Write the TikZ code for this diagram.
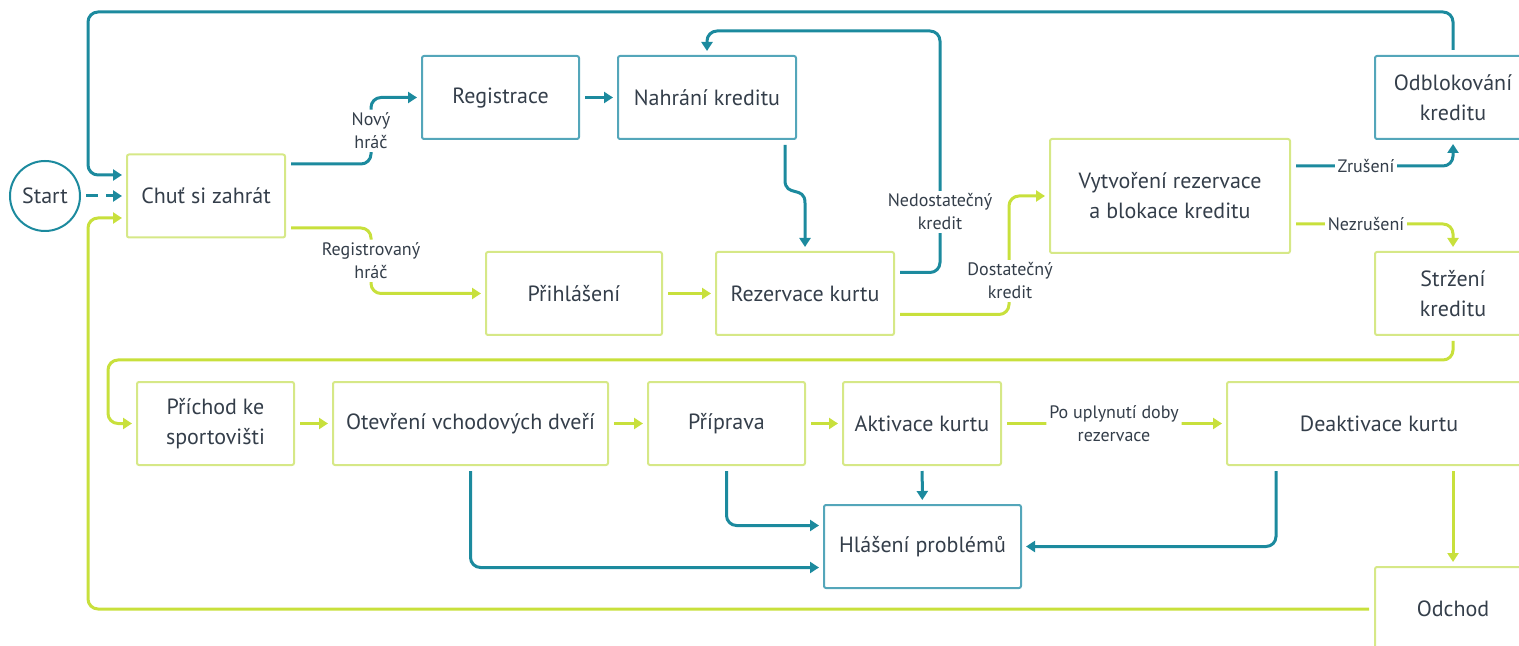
\documentclass[tikz,border=0pt]{standalone}
\usepackage{fontspec}
\setmainfont{PT Sans}
\usetikzlibrary{calc,arrows.meta}
\definecolor{tealc}{RGB}{28,138,158}
\definecolor{tealb}{RGB}{84,166,186}
\definecolor{limec}{RGB}{200,224,60}
\definecolor{limeb}{RGB}{214,232,135}
\definecolor{txt}{RGB}{52,62,74}
\begin{document}
\begin{tikzpicture}[x=0.5pt,y=-0.5pt,
 box/.style={draw,line width=1pt,rectangle,rounded corners=1pt,minimum height=41.5pt,align=center,text=txt,font=\fontsize{11}{15}\selectfont,inner sep=2pt},
 lbox/.style={box,draw=limeb},
 tbox/.style={box,draw=tealb},
 conn/.style={line width=1.5pt,rounded corners=5pt,-{Triangle[length=4.5pt,width=5.5pt]},shorten <=2.5pt,shorten >=2pt},
 tl/.style={conn,draw=tealc},
 ll/.style={conn,draw=limec},
 lbl/.style={fill=white,text=txt,font=\fontsize{9}{11.5}\selectfont,align=center,inner sep=1.5pt}
]
\useasboundingbox (0,0) rectangle (1519,646);
\clip (0,0) rectangle (1519,646);
% nodes
\node[circle,draw=tealc,line width=1pt,minimum size=35pt,inner sep=0pt,text=txt,font=\fontsize{11}{15}\selectfont] (start) at (45,196) {Start};
\node[lbox,minimum width=79pt] (chut) at (206,196) {Chuť si zahrát};
\node[tbox,minimum width=78.5pt] (reg) at (500.5,97.5) {\strut Registrace};
\node[tbox,minimum width=89pt] (nahr) at (707,97.5) {Nahrání kreditu};
\node[lbox,minimum width=88pt] (prih) at (574,293.5) {Přihlášení};
\node[lbox,minimum width=89pt] (rez) at (805,293.5) {Rezervace kurtu};
\node[lbox,minimum width=120pt,minimum height=57pt] (vytv) at (1170,196) {Vytvoření rezervace\\a blokace kreditu};
\node[tbox,minimum width=78pt] (odbl) at (1453,97.5) {Odblokování\\kreditu};
\node[lbox,minimum width=78pt] (strz) at (1453,293.5) {Stržení\\kreditu};
\node[lbox,minimum width=78.5pt] (prich) at (215.5,423.5) {Příchod ke\\sportovišti};
\node[lbox,minimum width=137.5pt] (otev) at (470.5,423.5) {Otevření vchodových dveří};
\node[lbox,minimum width=78.5pt] (prip) at (726.5,423.5) {\strut Příprava};
\node[lbox,minimum width=79pt] (akt) at (922,423.5) {Aktivace kurtu};
\node[lbox,minimum width=152pt] (deak) at (1379,423.5) {Deaktivace kurtu};
\node[tbox,minimum width=98.5pt] (hlas) at (922.5,546.5) {Hlášení problémů};
\node[lbox,minimum width=78pt,minimum height=42pt] (odch) at (1453,609) {Odchod};
% connectors
\draw[tl,dashed,dash pattern=on 6pt off 4pt] (start) -- (chut);
\draw[tl] (odbl.north) |- (88,12) |- ($(chut.west)+(0,-21)$);
\draw[ll] (odch.west) -| (88,218) -- ($(chut.west)+(0,22)$);
\draw[tl] ($(chut.east)+(0,-32)$) -| node[lbl,pos=0.75]{Nový\\hráč} ($(reg.west)+(-50,0)$) -- (reg.west);
\draw[ll] ($(chut.east)+(0,32)$) -| node[lbl,pos=0.75]{Registrovaný\\hráč} ($(prih.west)+(-114,0)$) -- (prih.west);
\draw[tl] (reg) -- (nahr);
\draw[tl] ($(nahr.south)+(78,0)$) -- ++(0,30) .. controls +(0,28) and +(0,-28) .. ($(rez.north)+(0,-38)$) -- (rez.north);
\draw[ll] (prih) -- (rez);
\draw[tl] ($(rez.east)+(0,-21)$) -| (940,31) -| (nahr.north);
\node[lbl] at (940,212) {Nedostatečný\\kredit};
\draw[ll] ($(rez.east)+(0,21)$) -| ($(vytv.west)+(-40,0)$) -- (vytv.west);
\node[lbl] at (1010,281) {Dostatečný\\kredit};
\draw[tl] ($(vytv.east)+(0,-30)$) -| (odbl.south);
\node[lbl] at (1366,166) {Zrušení};
\draw[ll] ($(vytv.east)+(0,28)$) -| (strz.north);
\node[lbl] at (1366,224) {Nezrušení};
\draw[ll] (strz.south) |- (108,360) |- (prich.west);
\draw[ll] (prich) -- (otev);
\draw[ll] (otev) -- (prip);
\draw[ll] (prip) -- (akt);
\draw[ll] (akt) -- node[lbl]{Po uplynutí doby\\rezervace} (deak);
\draw[tl] (otev.south) |- ($(hlas.west)+(0,21)$);
\draw[tl] (prip.south) |- ($(hlas.west)+(0,-21)$);
\draw[tl] (akt) -- (hlas);
\draw[tl] ($(deak.south)+(-103,0)$) |- (hlas.east);
\draw[ll] ($(deak.south)+(74,0)$) -- (odch.north);
\end{tikzpicture}
\end{document}
